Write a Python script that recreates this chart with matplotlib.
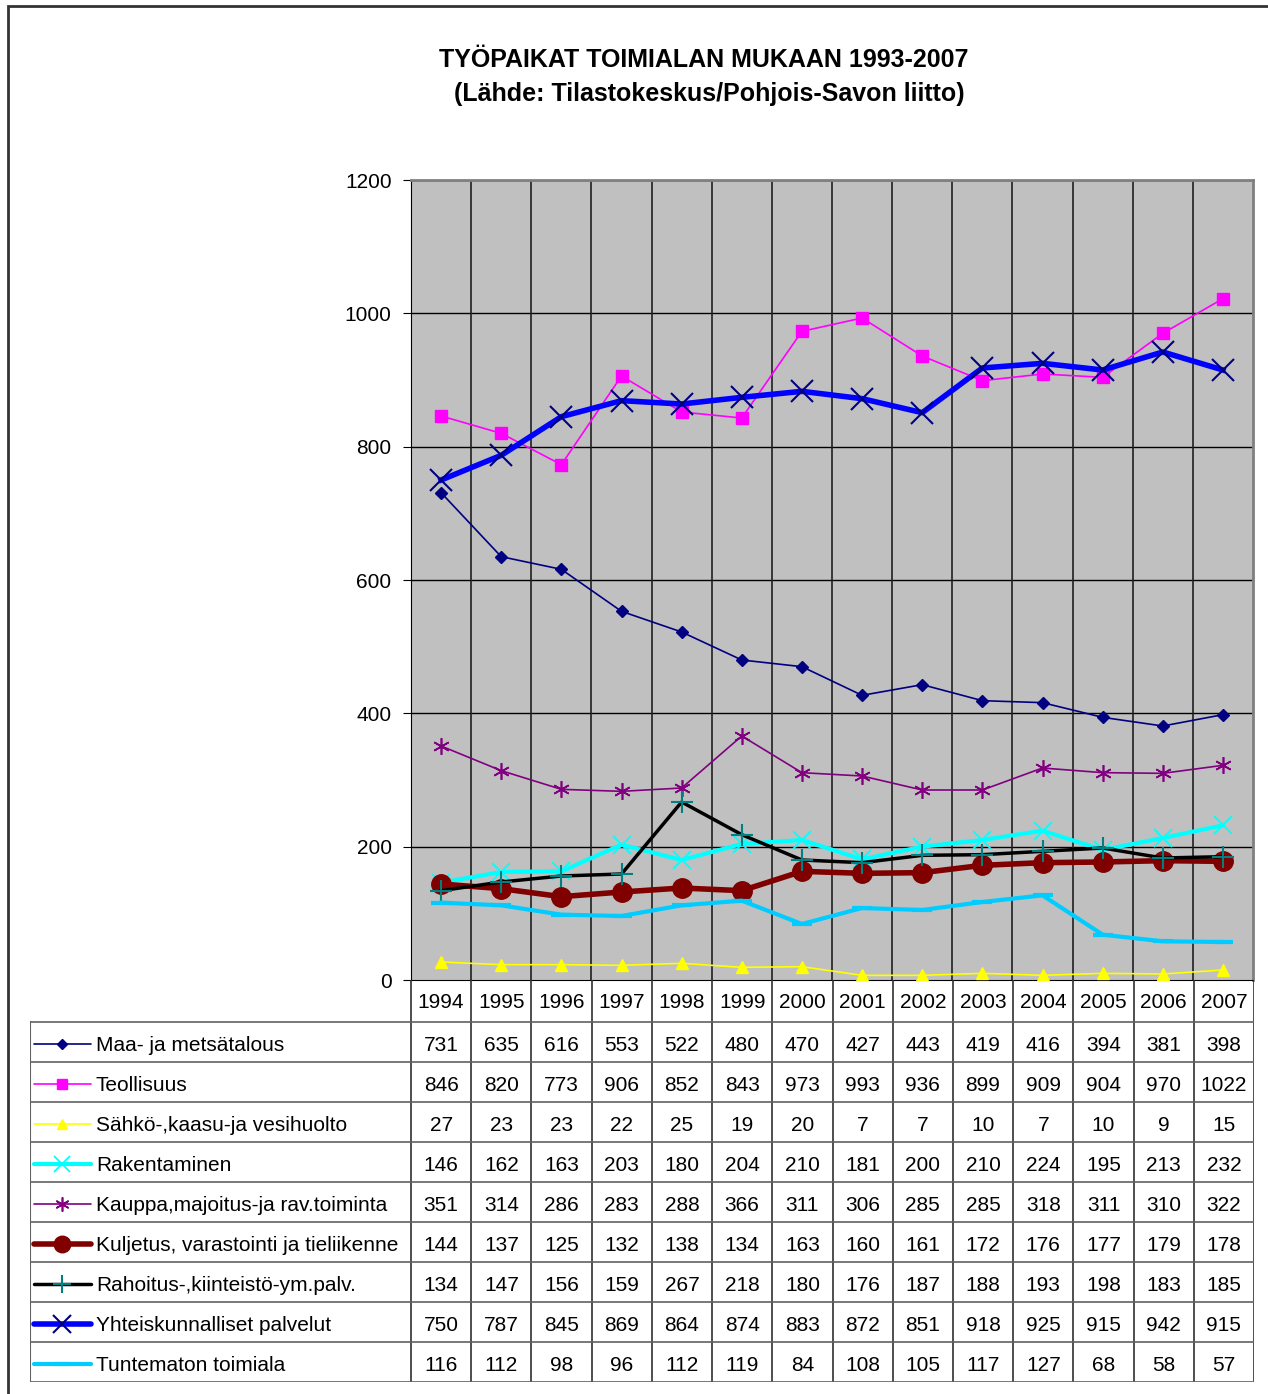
import numpy as np
import matplotlib
matplotlib.use('Agg')
import matplotlib.pyplot as plt
from matplotlib.lines import Line2D
from matplotlib.patches import Rectangle

plt.rcParams['font.family'] = ['Liberation Sans', 'DejaVu Sans']

W, H = 1268, 1394

years = ['1994', '1995', '1996', '1997', '1998', '1999', '2000',
         '2001', '2002', '2003', '2004', '2005', '2006', '2007']

names = ['Maa- ja metsätalous', 'Teollisuus', 'Sähkö-,kaasu-ja vesihuolto',
         'Rakentaminen', 'Kauppa,majoitus-ja rav.toiminta',
         'Kuljetus, varastointi ja tieliikenne', 'Rahoitus-,kiinteistö-ym.palv.',
         'Yhteiskunnalliset palvelut', 'Tuntematon toimiala']

maa = [731, 635, 616, 553, 522, 480, 470, 427, 443, 419, 416, 394, 381, 398]
teollisuus = [846, 820, 773, 906, 852, 843, 973, 993, 936, 899, 909, 904, 970, 1022]
sahko = [27, 23, 23, 22, 25, 19, 20, 7, 7, 10, 7, 10, 9, 15]
rakentaminen = [146, 162, 163, 203, 180, 204, 210, 181, 200, 210, 224, 195, 213, 232]
kauppa = [351, 314, 286, 283, 288, 366, 311, 306, 285, 285, 318, 311, 310, 322]
kuljetus = [144, 137, 125, 132, 138, 134, 163, 160, 161, 172, 176, 177, 179, 178]
rahoitus = [134, 147, 156, 159, 267, 218, 180, 176, 187, 188, 193, 198, 183, 185]
yhteiskunta = [750, 787, 845, 869, 864, 874, 883, 872, 851, 918, 925, 915, 942, 915]
tuntematon = [116, 112, 98, 96, 112, 119, 84, 108, 105, 117, 127, 68, 58, 57]

series = [maa, teollisuus, sahko, rakentaminen, kauppa, kuljetus, rahoitus, yhteiskunta, tuntematon]

# (line color, lw, marker, marker size, marker face, marker edge, mew)
styles = [
    ('#000080', 1.2, 'D', 6, '#000080', '#000080', 1),
    ('#FF00FF', 1.2, 's', 8, '#FF00FF', '#FF00FF', 1),
    ('#FFFF00', 1.2, '^', 9, '#FFFF00', '#FFFF00', 1),
    ('#00FFFF', 3.0, 'x', 13, '#00FFFF', '#00FFFF', 1.3),
    ('#800080', 1.2, (6, 2, 0), 12, '#800080', '#800080', 1.2),
    ('#800000', 4.0, 'o', 14, '#800000', '#800000', 1),
    ('#000000', 2.5, '+', 16, '#008080', '#008080', 1.5),
    ('#0000FF', 4.0, 'x', 16, '#000080', '#000080', 1.5),
    ('#00CCFF', 3.0, '_', 14, '#00CCFF', '#00CCFF', 3),
]

fig = plt.figure(figsize=(W / 100, H / 100), dpi=100)

# outer border (cropped at right and bottom)
fig.add_artist(Rectangle((8 / W, -0.01), 1.1, 1 - 6 / H + 0.01, transform=fig.transFigure,
                         fill=False, edgecolor='#333333', lw=2))

fig.text(704 / W, 1 - 60 / H, 'TYÖPAIKAT TOIMIALAN MUKAAN 1993-2007',
         ha='center', va='center', fontsize=18, fontweight='bold')
fig.text(709 / W, 1 - 94 / H, '(Lähde: Tilastokeskus/Pohjois-Savon liitto)',
         ha='center', va='center', fontsize=18, fontweight='bold')

# plot area
x0, x1, y0, y1 = 411, 1253, 180, 980
ax = fig.add_axes([x0 / W, 1 - y1 / H, (x1 - x0) / W, (y1 - y0) / H])
ax.set_facecolor('#C0C0C0')
x = np.arange(len(years))
for vals, (c, lw, m, ms, mfc, mec, mew) in zip(series, styles):
    ax.plot(x, vals, color=c, lw=lw, marker=m, ms=ms, mfc=mfc, mec=mec, mew=mew,
            solid_joinstyle='round', zorder=3)
ax.set_xlim(-0.5, len(years) - 0.5)
ax.set_ylim(0, 1200)
ax.set_yticks(range(0, 1201, 200))
ax.set_xticks([])
for v in range(200, 1201, 200):
    ax.axhline(v, color='black', lw=1, zorder=1)
for k in range(1, len(years)):
    ax.axvline(k - 0.5, color='#202020', lw=1.2, zorder=1)
ax.tick_params(axis='y', labelsize=15, length=6, direction='out', pad=8)
for s in ['top', 'right']:
    ax.spines[s].set_color('#808080')
    ax.spines[s].set_linewidth(2)
ax.spines['left'].set_color('black')
ax.spines['bottom'].set_color('black')

# data table
tx0, tx1, ty0, ty1 = 30, 1254, 980, 1382
tab = fig.add_axes([tx0 / W, 1 - ty1 / H, (tx1 - tx0) / W, (ty1 - ty0) / H])
tab.set_xlim(tx0, tx1)
tab.set_ylim(ty1, ty0)
tab.axis('off')

col_w = (tx1 - x0) / len(years)
row_top = 1022
row_h = 40

# vertical lines
for k in range(len(years) + 1):
    xx = x0 + k * col_w
    tab.plot([xx, xx], [ty0, ty1], color='#303030', lw=1.2)
tab.plot([tx0, tx0], [row_top, ty1], color='#606060', lw=1.5)
# horizontal lines
tab.plot([tx0, tx1], [row_top, row_top], color='#606060', lw=1.2)
for r in range(1, len(names) + 1):
    yy = row_top + r * row_h
    tab.plot([tx0, tx1], [yy, yy], color='#606060', lw=1.2)

for k, yr in enumerate(years):
    tab.text(x0 + (k + 0.5) * col_w, (ty0 + row_top) / 2 + 1, yr,
             ha='center', va='center', fontsize=15)

for r, (name, vals, st) in enumerate(zip(names, series, styles)):
    c, lw, m, ms, mfc, mec, mew = st
    yc = row_top + (r + 0.5) * row_h
    tab.add_line(Line2D([34, 91], [yc + 2, yc + 2], color=c, lw=lw, solid_capstyle='round'))
    tab.add_line(Line2D([62], [yc + 2], marker=m, ms=ms * 0.85, mfc=mfc, mec=mec, mew=mew, lw=0))
    tab.text(96, yc + 3, name, ha='left', va='center', fontsize=15)
    for k, v in enumerate(vals):
        tab.text(x0 + (k + 0.5) * col_w, yc + 3, str(v), ha='center', va='center', fontsize=15)

fig.savefig('out.png', dpi=100)
